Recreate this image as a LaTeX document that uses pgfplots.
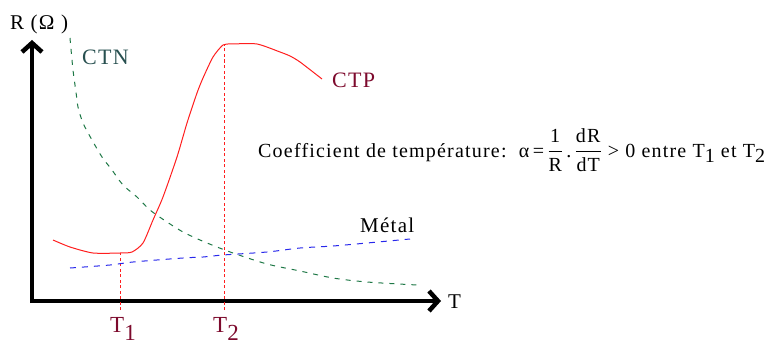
\documentclass[border=0pt]{standalone}
\usepackage{pgfplots}
\pgfplotsset{compat=1.18}
\usepackage{amsmath}
\usepackage{fontspec}
\setmainfont{Liberation Serif}[LetterSpace=6]
\usetikzlibrary{arrows.meta}

\definecolor{ctpred}{RGB}{255,30,30}
\definecolor{labred}{RGB}{125,10,45}
\definecolor{ctngreen}{RGB}{30,120,70}
\definecolor{ctnlab}{RGB}{40,80,80}
\definecolor{metalblue}{RGB}{40,40,235}

\begin{document}
\begin{tikzpicture}
\begin{axis}[
  x=1pt, y=1pt, y dir=reverse,
  xmin=0, xmax=784, ymin=0, ymax=345,
  hide axis, clip=false, scale only axis,
]
% frame of the drawing
\path (axis cs:0,0) rectangle (axis cs:784,345);

% axes
\draw[line width=4.5pt, -{Straight Barb[length=9pt,width=20pt]}]
  (axis cs:32,303) -- (axis cs:32,40);
\draw[line width=4.5pt, -{Straight Barb[length=9pt,width=20pt]}]
  (axis cs:30,301) -- (axis cs:441,301);

% T1 and T2 markers
\addplot[ctpred, line width=0.9pt, dash pattern=on 3pt off 2.5pt]
  coordinates {(120,310) (120,253)};
\addplot[ctpred, line width=0.9pt, dash pattern=on 3pt off 2.5pt]
  coordinates {(224,310) (224,45)};

% CTN
\addplot[ctngreen, line width=1pt, dash pattern=on 5pt off 6pt, smooth]
  coordinates {(70,38) (73,70) (76,92) (78,107) (83,123) (92,140) (102,157)
  (112,170) (123,185) (137,197) (150,210) (167,222) (183,232) (200,240)
  (217,247) (233,253) (267,264) (300,271) (333,278) (367,282) (417,285)};

% Metal
\addplot[metalblue, line width=1pt, dash pattern=on 6pt off 6pt, smooth]
  coordinates {(70,268) (110,265) (133,262) (183,258) (203,257) (223,255)
  (267,252) (300,248) (333,246) (367,243) (410,239)};

% CTP
\addplot[ctpred, line width=1pt, smooth, tension=0.4]
  coordinates {(53,240) (70,247) (93,253) (120,253) (132,252) (143,243)
  (153,220) (163,197) (177,157) (187,123) (197,93) (203,78) (213,57)
  (223,45) (232,44) (257,44) (280,52) (290,56) (300,62) (322,79)};

% labels
\node[anchor=base west, inner sep=0pt, font=\fontsize{21}{21}\selectfont] at (axis cs:10,30) {R (Ω )};
\node[anchor=base west, inner sep=0pt, font=\fontsize{21}{21}\selectfont] at (axis cs:448,308) {T};
\node[anchor=base west, inner sep=0pt, text=ctnlab, font=\fontsize{22}{22}\selectfont] at (axis cs:82,64) {CTN};
\node[anchor=base west, inner sep=0pt, text=labred, font=\fontsize{22}{22}\selectfont] at (axis cs:332,88) {CTP};
\node[anchor=base west, inner sep=0pt, font=\fontsize{21}{21}\selectfont] at (axis cs:360,232) {Métal};
\node[anchor=base west, inner sep=0pt, text=labred, font=\fontsize{23}{23}\selectfont] at (axis cs:110,332) {T\raisebox{-8pt}{1}};
\node[anchor=base west, inner sep=0pt, text=labred, font=\fontsize{23}{23}\selectfont] at (axis cs:213,332) {T\raisebox{-8pt}{2}};

\node[anchor=base west, inner sep=0pt, font=\fontsize{20}{20}\selectfont] at (axis cs:258,157)
  {Coefficient de température:\ \ α\,=\,$\dfrac{\text{1}}{\text{R}}$\,.\,$\dfrac{\text{dR}}{\text{dT}}$\ > 0 entre T\raisebox{-5pt}{1} et T\raisebox{-5pt}{2}};
\end{axis}
\end{tikzpicture}
\end{document}
